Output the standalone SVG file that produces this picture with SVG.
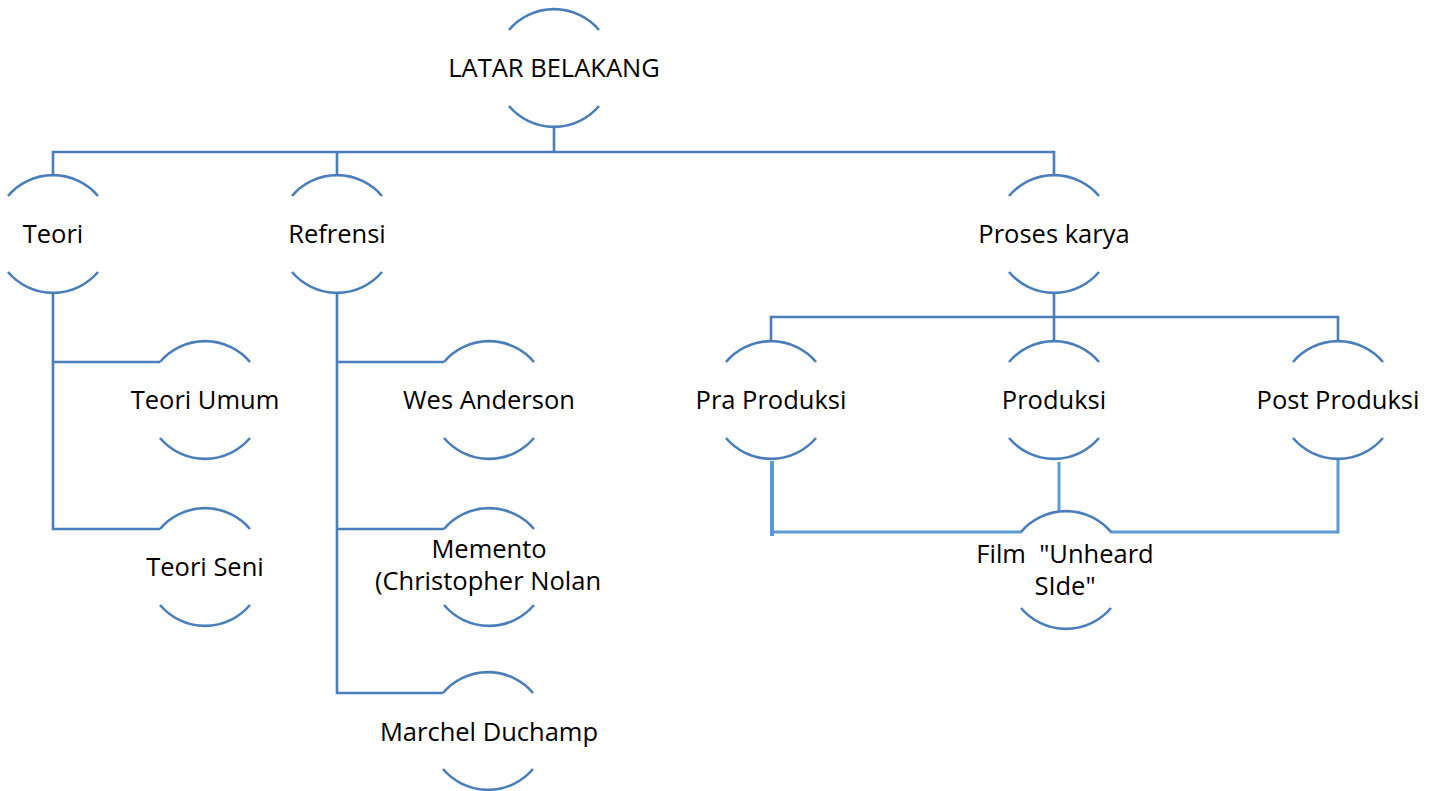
<svg xmlns="http://www.w3.org/2000/svg" xmlns:xlink="http://www.w3.org/1999/xlink" width="1435" height="791" viewBox="0 0 1435 791">
<style>
.ring{fill:none;stroke:#4A7EBB;stroke-width:2.6}
.conn{fill:none;stroke:#4A7EBB;stroke-width:2.6}
.conn2{fill:none;stroke:#5B9BD5;stroke-width:3}
.lbl{font-family:"Open Sans","Noto Sans","Liberation Sans",sans-serif;font-size:25.5px;fill:#000;text-anchor:middle}
</style>
<defs>
<path id="ring" class="ring" d="M-45,-38 A59,59 0 0 1 45,-38 M-45,38 A59,59 0 0 0 45,38"/>
</defs>
<rect width="1435" height="791" fill="#fff"/>
<g id="connectors">
<path class="conn" d="M554,127 V152 M53,175 V152 H1054 V175 M337,152 V175"/>
<path class="conn" d="M53,293 V529 H160 M53,362 H160"/>
<path class="conn" d="M337,293 V693 H443 M337,362 H444 M337,529 H444"/>
<path class="conn" d="M1054,293 V317 M771,342 V317 H1338 V342 M1054,317 V342"/>
<path class="conn2" d="M772,461 V536" style="stroke-width:4"/>
<path class="conn2" d="M772,532 H1022"/>
<path class="conn2" d="M1059,462 V512"/>
<path class="conn2" d="M1338,458 V532 H1110"/>
</g>
<g id="latar"><use href="#ring" x="554" y="68"/><text class="lbl" x="554" y="77">LATAR BELAKANG</text></g>
<g id="teori"><use href="#ring" x="53" y="234"/><text class="lbl" x="53" y="243">Teori</text></g>
<g id="refrensi"><use href="#ring" x="337" y="234"/><text class="lbl" x="337" y="243">Refrensi</text></g>
<g id="proses"><use href="#ring" x="1054" y="234"/><text class="lbl" x="1054" y="243">Proses karya</text></g>
<g id="teori-umum"><use href="#ring" x="205" y="400"/><text class="lbl" x="205" y="409">Teori Umum</text></g>
<g id="teori-seni"><use href="#ring" x="205" y="567"/><text class="lbl" x="205" y="576">Teori Seni</text></g>
<g id="wes"><use href="#ring" x="489" y="400"/><text class="lbl" x="489" y="409">Wes Anderson</text></g>
<g id="memento"><use href="#ring" x="489" y="567"/><text class="lbl" x="489" y="558">Memento</text><text class="lbl" x="488" y="590">(Christopher Nolan</text></g>
<g id="marchel"><use href="#ring" x="488" y="731"/><text class="lbl" x="489" y="741">Marchel Duchamp</text></g>
<g id="pra"><use href="#ring" x="771" y="400"/><text class="lbl" x="771" y="409">Pra Produksi</text></g>
<g id="produksi"><use href="#ring" x="1054" y="400"/><text class="lbl" x="1054" y="409">Produksi</text></g>
<g id="post"><use href="#ring" x="1338" y="400"/><text class="lbl" x="1338" y="409">Post Produksi</text></g>
<g id="film"><use href="#ring" x="1066" y="570"/><text class="lbl" x="1065" y="563" xml:space="preserve">Film  "Unheard</text><text class="lbl" x="1065" y="595">SIde"</text></g>
</svg>
